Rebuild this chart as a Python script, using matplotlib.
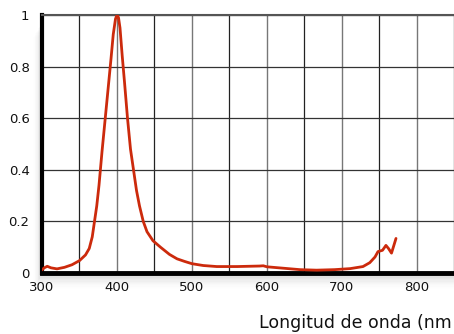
import matplotlib
matplotlib.use("Agg")
import matplotlib.pyplot as plt
from matplotlib.patches import Rectangle

wavelength = [300, 303, 307, 312, 320, 330, 340, 350, 358, 363, 367, 370, 373, 376,
              380, 385, 389, 392, 395, 398, 400, 402, 404, 407, 410, 414, 418, 422,
              426, 430, 435, 440, 448, 458, 470, 480, 490, 500, 515, 533, 560, 590,
              595, 600, 620, 644, 666, 690, 711, 728, 737, 744, 748, 754, 758.6, 762,
              766, 772]
intensity = [0.012, 0.02, 0.026, 0.02, 0.016, 0.022, 0.032, 0.048, 0.07, 0.095, 0.14,
             0.2, 0.26, 0.34, 0.47, 0.62, 0.74, 0.83, 0.925, 0.985, 1.0, 0.99, 0.95,
             0.84, 0.74, 0.6, 0.48, 0.4, 0.32, 0.26, 0.2, 0.16, 0.125, 0.1, 0.072,
             0.055, 0.045, 0.036, 0.029, 0.025, 0.025, 0.027, 0.028, 0.024, 0.019,
             0.013, 0.011, 0.013, 0.017, 0.025, 0.04, 0.062, 0.083, 0.088, 0.107,
             0.095, 0.077, 0.134]
x_ticks = [300, 400, 500, 600, 700, 800]
y_ticks = [0, 0.2, 0.4, 0.6, 0.8, 1.0]
y_labels = ["0", "0.2", "0.4", "0.6", "0.8", "1"]
x_grid = [350, 450, 550, 650, 750, 850]
xlabel = "Longitud de onda (nm"

W, H = 454, 334
fig = plt.figure(figsize=(W / 100, H / 100), dpi=100)
left_px, right_px, top_px, bot_px = 42, 454, 15, 273
ax = fig.add_axes([left_px / W, (H - bot_px) / H, (right_px - left_px) / W, (bot_px - top_px) / H])

# soft drop shadow
for i in range(12):
    a = 0.025 * (1 - i / 12)
    fig.patches.append(Rectangle(((left_px - 1 - i * 0.7) / W, (H - bot_px - 2 - i * 1.3) / H),
                                 (W - left_px + 10) / W, (bot_px - top_px - 6) / H,
                                 transform=fig.transFigure, color="black", alpha=a,
                                 lw=0, zorder=-10))
ax.set_facecolor("white")

ax.set_xlim(300, 300 + (right_px - left_px) / 0.75)
ax.set_ylim(0, 1)

for x in x_ticks:
    ax.axvline(x, color="#777777", lw=1.0, zorder=1)
for x in x_grid:
    ax.axvline(x, color="#222222", lw=0.9, zorder=1)
for y in y_ticks[1:]:
    ax.axhline(y, color="#333333", lw=0.9, zorder=1)

ax.plot(wavelength, intensity, color="#cc2a0c", lw=2.0, zorder=3,
        solid_joinstyle="round", solid_capstyle="round")

ax.set_xticks(x_ticks)
ax.set_xticklabels([str(v) for v in x_ticks])
ax.set_yticks(y_ticks)
ax.set_yticklabels(y_labels)
ax.tick_params(length=0, labelsize=9.5, pad=6, colors="#111111")
ax.tick_params(axis="y", pad=9)

ax.spines["right"].set_visible(False)
ax.spines["left"].set_linewidth(3)
ax.spines["bottom"].set_linewidth(3.5)
ax.spines["top"].set_linewidth(1.5)
ax.spines["top"].set_color("#555555")

fig.text(452 / W, 11 / H, xlabel, fontsize=12.5, ha="right", va="center", color="#111111")

fig.savefig("out.png", dpi=100)
